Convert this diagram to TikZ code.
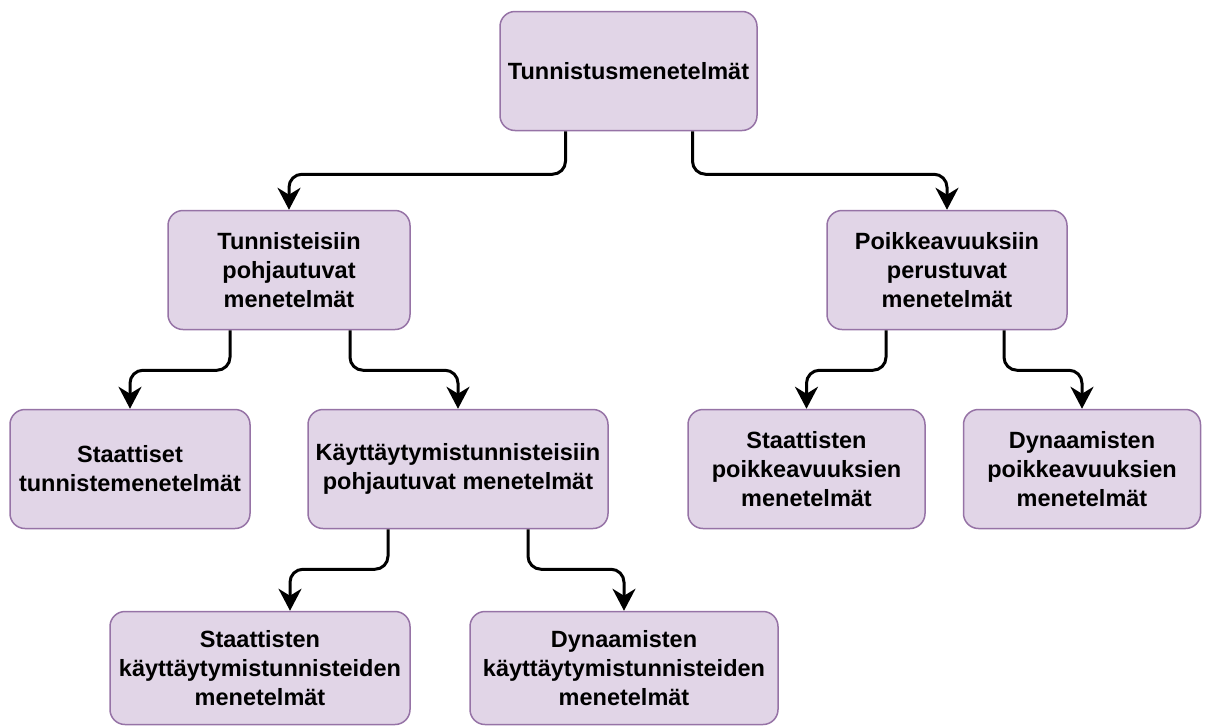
\documentclass[tikz,border=0pt]{standalone}
\usepackage{fontspec}
\setmainfont{Liberation Sans}
\usetikzlibrary{arrows.meta}
\definecolor{boxfill}{HTML}{E1D5E7}
\definecolor{boxline}{HTML}{9673A6}

\begin{document}
\begin{tikzpicture}[x=1pt,y=1pt,node distance=199pt,
    box/.style={draw=boxline,fill=boxfill,line width=1.5pt,rounded corners=15pt,
      align=center,inner sep=2pt,font=\fontsize{23.5}{29}\selectfont\bfseries,
      minimum width=#1,minimum height=119pt},
    box/.default=240pt,
    edge/.style={line width=3pt,rounded corners=13pt,
      -{Stealth[length=22pt,width=23pt,inset=7pt]}}]
      \useasboundingbox (0,0) rectangle (1210,-726);

      \node[box=257pt] (1) at (628.5,-71) {Tunnistusmenetelmät};
      \node[box=242pt,below of=1,xshift=-339.5pt] (2) {Tunnisteisiin\\pohjautuvat\\menetelmät};
      \node[box=240pt,below of=1,xshift=318.5pt] (3) {Poikkeavuuksiin\\perustuvat\\menetelmät};
      \node[box=240pt,below of=2,xshift=-159pt] (4) {Staattiset\\tunnistemenetelmät};
      \node[box=300pt,below of=2,xshift=169pt] (5) {Käyttäytymistunnisteisiin\\pohjautuvat menetelmät};
      \node[box=237pt,below of=3,xshift=-140.5pt] (6) {Staattisten\\poikkeavuuksien\\menetelmät};
      \node[box=237pt,below of=3,xshift=135pt] (7) {Dynaamisten\\poikkeavuuksien\\menetelmät};
      \node[box=300pt,minimum height=113pt,below of=5,xshift=-198pt] (8) {Staattisten\\käyttäytymistunnisteiden\\menetelmät};
      \node[box=308pt,minimum height=113pt,below of=5,xshift=166pt] (9) {Dynaamisten\\käyttäytymistunnisteiden\\menetelmät};

      \draw[edge] ([xshift=-63pt]1.south) -- ++(0,-43pt) -| (2.north);
      \draw[edge] ([xshift=64pt]1.south) -- ++(0,-43pt) -| (3.north);
      \draw[edge] ([xshift=-59pt]2.south) -- ++(0,-40pt) -| (4.north);
      \draw[edge] ([xshift=61pt]2.south) -- ++(0,-40pt) -| (5.north);
      \draw[edge] ([xshift=-61pt]3.south) -- ++(0,-40pt) -| (6.north);
      \draw[edge] ([xshift=57pt]3.south) -- ++(0,-40pt) -| (7.north);
      \draw[edge] ([xshift=-70pt]5.south) -- ++(0,-40pt) -| ([xshift=30pt]8.north);
      \draw[edge] ([xshift=70pt]5.south) -- ++(0,-40pt) -| (9.north);
    \end{tikzpicture}
\end{document}
